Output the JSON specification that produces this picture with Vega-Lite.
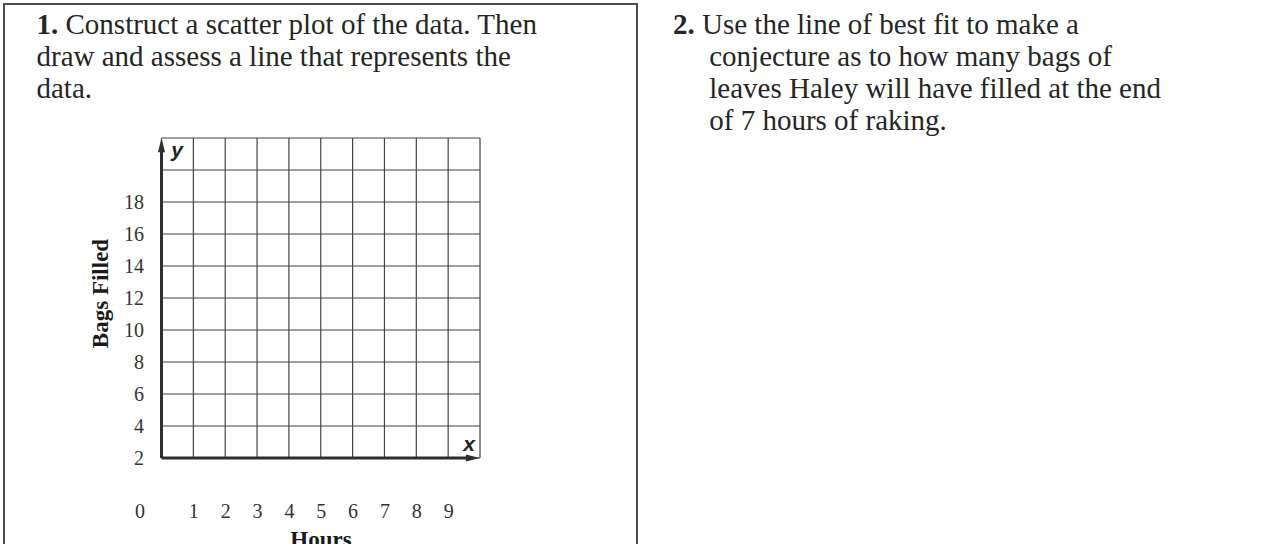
{
  "$schema": "https://vega.github.io/schema/vega-lite/v6.json",
  "background": "white",
  "padding": {"left": 3, "top": 3, "right": 1, "bottom": 0},
  "autosize": {"type": "pad"},
  "spacing": 0,
  "bounds": "flush",
  "config": {
    "view": {"stroke": "#4d4d4d", "strokeWidth": 2},
    "font": "Liberation Serif"
  },
  "datasets": {
    "hours": [{"hours": 0}, {"hours": 1}, {"hours": 2}, {"hours": 3}, {"hours": 4}, {"hours": 5}, {"hours": 6}, {"hours": 7}, {"hours": 8}, {"hours": 9}, {"hours": 10}],
    "bags": [{"bags": 2}, {"bags": 4}, {"bags": 6}, {"bags": 8}, {"bags": 10}, {"bags": 12}, {"bags": 14}, {"bags": 16}, {"bags": 18}, {"bags": 20}, {"bags": 22}],
    "axisLines": [
      {"axis": "x", "h1": 0, "b1": 2, "h2": 9.7, "b2": 2},
      {"axis": "y", "h1": 0, "b1": 2, "h2": 0, "b2": 21.4}
    ],
    "arrowheads": [
      {"axis": "x", "h": 10, "b": 2},
      {"axis": "y", "h": 0, "b": 22}
    ],
    "axisLetters": [
      {"letter": "x", "h": 9.655, "b": 2.44},
      {"letter": "y", "h": 0.49, "b": 20.8}
    ]
  },
  "hconcat": [
    {
      "width": 633,
      "height": 570,
      "title": {
        "text": "1.",
        "subtitle": ["\u200b\u00a0\u00a0\u00a0\u00a0Construct a scatter plot of the data. Then", "draw and assess a line that represents the", "data."],
        "orient": "bottom",
        "anchor": "start",
        "frame": "group",
        "align": "left",
        "baseline": "top",
        "offset": -563,
        "dx": 32.5,
        "font": "Liberation Serif",
        "fontSize": 29,
        "fontWeight": "bold",
        "color": "#262626",
        "subtitleFont": "Liberation Serif",
        "subtitleFontSize": 29,
        "subtitleFontWeight": "normal",
        "subtitleColor": "#262626",
        "subtitleLineHeight": 32,
        "subtitlePadding": -29
      },
      "layer": [
        {
          "data": {"name": "hours"},
          "mark": {"type": "rule", "color": "#444444", "strokeWidth": 1.2},
          "encoding": {
            "x": {
              "field": "hours",
              "type": "quantitative",
              "scale": {"domain": [-4.945, 14.929], "nice": false, "zero": false},
              "axis": {
                "title": "Hours",
                "values": [0, 1, 2, 3, 4, 5, 6, 7, 8, 9],
                "grid": false,
                "domain": false,
                "ticks": false,
                "tickSize": 0,
                "offset": -116,
                "labelPadding": 43,
                "labelOffset": {"condition": {"test": "datum.value === 0", "value": -22}, "value": 0},
                "labelFont": "Liberation Serif",
                "labelFontSize": 20,
                "labelColor": "#333333",
                "labelFlush": false,
                "labelOverlap": false,
                "titleFont": "Liberation Serif",
                "titleFontSize": 23,
                "titleFontWeight": "bold",
                "titleColor": "#1a1a1a",
                "titlePadding": 7
              }
            },
            "y": {
              "datum": 2,
              "type": "quantitative",
              "scale": {"domain": [-5.25, 30.375], "nice": false, "zero": false},
              "axis": {
                "title": "Bags Filled",
                "values": [2, 4, 6, 8, 10, 12, 14, 16, 18],
                "grid": false,
                "domain": false,
                "ticks": false,
                "tickSize": 0,
                "offset": -157.5,
                "labelPadding": 18,
                "labelFont": "Liberation Serif",
                "labelFontSize": 20,
                "labelColor": "#333333",
                "labelOverlap": false,
                "titleFont": "Liberation Serif",
                "titleFontSize": 23,
                "titleFontWeight": "bold",
                "titleColor": "#1a1a1a",
                "titlePadding": 11,
                "titleY": 289
              }
            },
            "y2": {"datum": 22}
          }
        },
        {
          "data": {"name": "bags"},
          "mark": {"type": "rule", "color": "#444444", "strokeWidth": 1.2},
          "encoding": {
            "y": {"field": "bags", "type": "quantitative", "scale": {"domain": [-5.25, 30.375], "nice": false, "zero": false}},
            "x": {"datum": 0, "type": "quantitative", "scale": {"domain": [-4.945, 14.929], "nice": false, "zero": false}},
            "x2": {"datum": 10}
          }
        },
        {
          "data": {"name": "axisLines"},
          "mark": {"type": "rule", "color": "#2e2e2e", "strokeWidth": 3},
          "encoding": {
            "x": {"field": "h1", "type": "quantitative", "scale": {"domain": [-4.945, 14.929], "nice": false, "zero": false}},
            "y": {"field": "b1", "type": "quantitative", "scale": {"domain": [-5.25, 30.375], "nice": false, "zero": false}},
            "x2": {"field": "h2"},
            "y2": {"field": "b2"}
          }
        },
        {
          "data": {"name": "arrowheads"},
          "mark": {"type": "point", "filled": true, "size": 200, "color": "#2e2e2e", "opacity": 1, "strokeWidth": 0},
          "encoding": {
            "x": {"field": "h", "type": "quantitative", "scale": {"domain": [-4.945, 14.929], "nice": false, "zero": false}},
            "y": {"field": "b", "type": "quantitative", "scale": {"domain": [-5.25, 30.375], "nice": false, "zero": false}},
            "shape": {
              "field": "axis",
              "type": "nominal",
              "scale": {"domain": ["x", "y"], "range": ["M0,0L-2,-0.5L-2,0.5Z", "M0,0L-0.5,2L0.5,2Z"]},
              "legend": null
            }
          }
        },
        {
          "data": {"name": "axisLetters"},
          "mark": {"type": "text", "font": "Liberation Sans", "fontStyle": "italic", "fontWeight": "bold", "fontSize": 21, "align": "center", "baseline": "alphabetic", "color": "#222222"},
          "encoding": {
            "x": {"field": "h", "type": "quantitative", "scale": {"domain": [-4.945, 14.929], "nice": false, "zero": false}},
            "y": {"field": "b", "type": "quantitative", "scale": {"domain": [-5.25, 30.375], "nice": false, "zero": false}},
            "text": {"field": "letter"}
          }
        }
      ]
    },
    {
      "width": 632,
      "height": 570,
      "title": {
        "text": "2.",
        "subtitle": [
          "\u200b\u00a0\u00a0\u00a0\u00a0Use the line of best fit to make a",
          "\u200b\u00a0\u00a0\u00a0\u00a0\u00a0conjecture as to how many bags of",
          "\u200b\u00a0\u00a0\u00a0\u00a0\u00a0leaves Haley will have filled at the end",
          "\u200b\u00a0\u00a0\u00a0\u00a0\u00a0of 7 hours of raking."
        ],
        "orient": "bottom",
        "anchor": "start",
        "frame": "group",
        "align": "left",
        "baseline": "top",
        "offset": -563,
        "dx": 36,
        "font": "Liberation Serif",
        "fontSize": 29,
        "fontWeight": "bold",
        "color": "#262626",
        "subtitleFont": "Liberation Serif",
        "subtitleFontSize": 29,
        "subtitleFontWeight": "normal",
        "subtitleColor": "#262626",
        "subtitleLineHeight": 32,
        "subtitlePadding": -29
      },
      "data": {"values": []},
      "mark": {"type": "point"}
    }
  ]
}
